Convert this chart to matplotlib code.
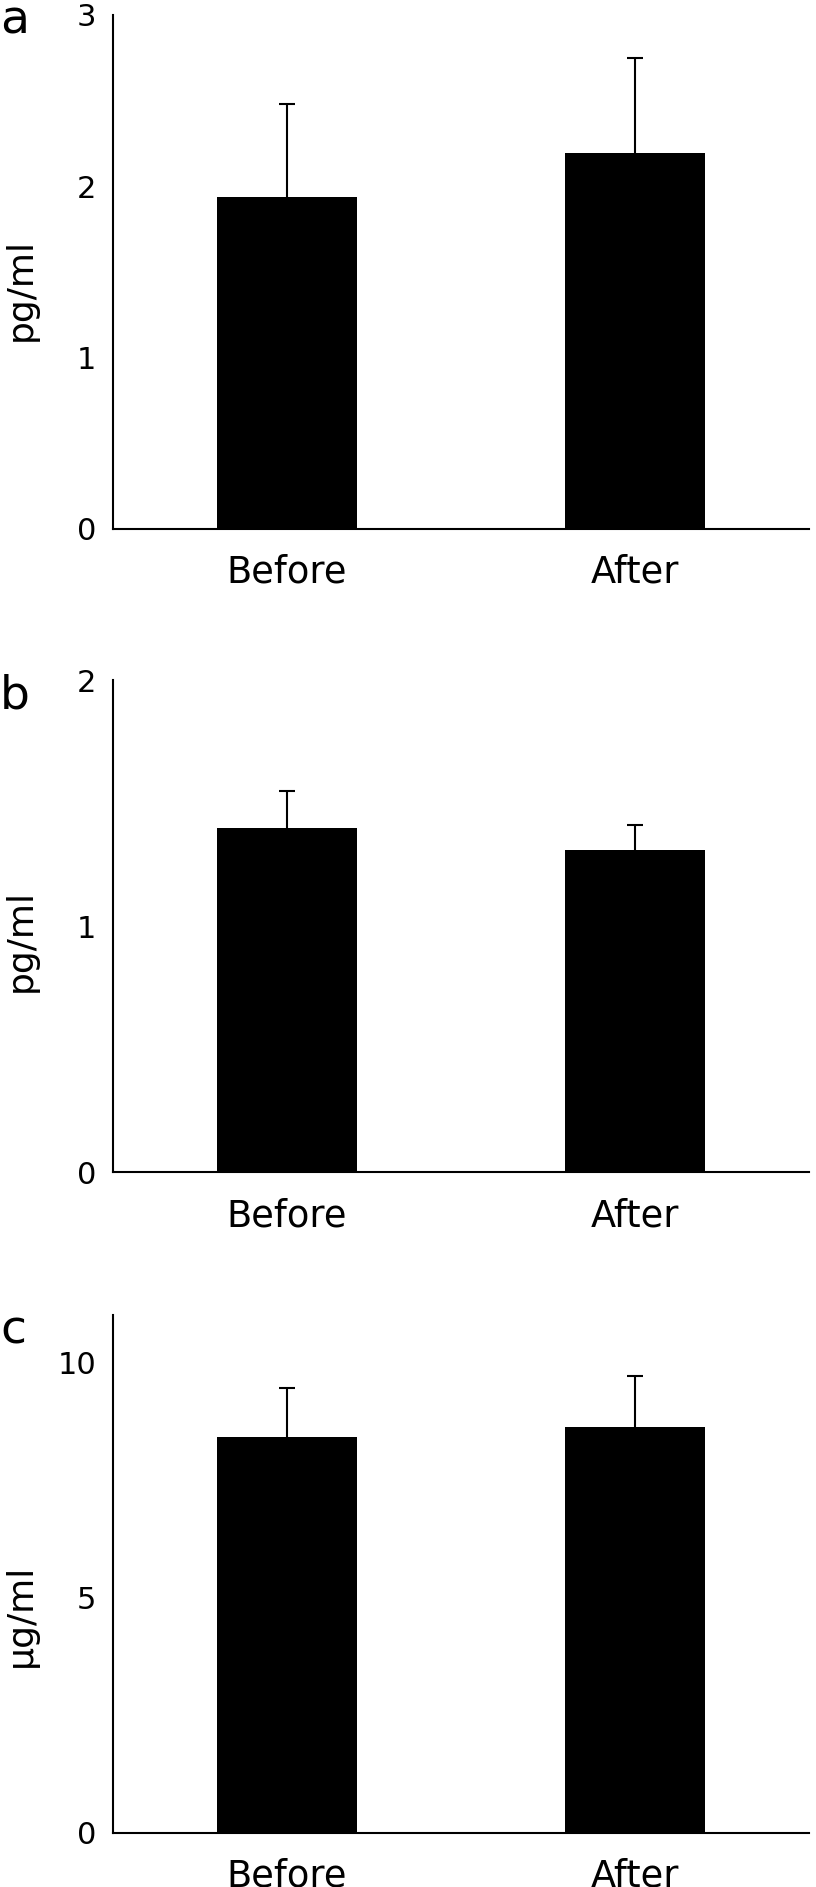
import numpy as np
import matplotlib
matplotlib.use('Agg')
import matplotlib.pyplot as plt

groups = ['Before', 'After']

# panel a (pg/ml)
a_mean = [1.94, 2.195]
a_err = [0.54, 0.555]
# panel b (pg/ml)
b_mean = [1.40, 1.31]
b_err = [0.15, 0.10]
# panel c (ug/ml)
c_mean = [8.41, 8.62]
c_err = [1.04, 1.09]

panels = [
    ('a', a_mean, a_err, 'pg/ml', 3, [0, 1, 2, 3]),
    ('b', b_mean, b_err, 'pg/ml', 2, [0, 1, 2]),
    ('c', c_mean, c_err, 'µg/ml', 11, [0, 5, 10]),
]

plt.rcParams['font.family'] = 'DejaVu Sans'

fig = plt.figure(figsize=(8.16, 18.87), dpi=100)

# axes boxes in figure fractions: left, bottom, width, height
boxes = [
    [0.1385, 0.7197, 0.853, 0.2724],
    [0.1385, 0.3789, 0.853, 0.2607],
    [0.1385, 0.02862, 0.853, 0.2745],
]
letter_y = [0.9825, 0.6248, 0.2878]
label_y = [0.465, 0.47, 0.42]

x = np.arange(len(groups))

for i, (letter, mean, err, unit, top, ticks) in enumerate(panels):
    ax = fig.add_axes(boxes[i])
    ax.bar(x, mean, width=0.4, color='black')
    eb = ax.errorbar(x, mean, yerr=[np.zeros(len(err)), err], fmt='none',
                     ecolor='black', elinewidth=1.5, capsize=6, capthick=1.5)
    # only the upper whisker gets a cap
    eb[1][0].set_visible(False)
    ax.set_xlim(-0.5, 1.5)
    ax.set_ylim(0, top)
    ax.set_yticks(ticks)
    ax.set_xticks(x)
    ax.set_xticklabels(groups)
    ax.tick_params(axis='y', length=0, pad=12, labelsize=22)
    ax.tick_params(axis='x', length=0, pad=18, labelsize=26.5)
    for s in ['top', 'right']:
        ax.spines[s].set_visible(False)
    for s in ['left', 'bottom']:
        ax.spines[s].set_linewidth(1.5)
    ax.set_ylabel(unit, fontsize=26)
    ax.yaxis.set_label_coords(-0.108, label_y[i])
    fig.text(0.0, letter_y[i], letter, fontsize=34, va='baseline', ha='left')

fig.savefig('out.png', dpi=100)
